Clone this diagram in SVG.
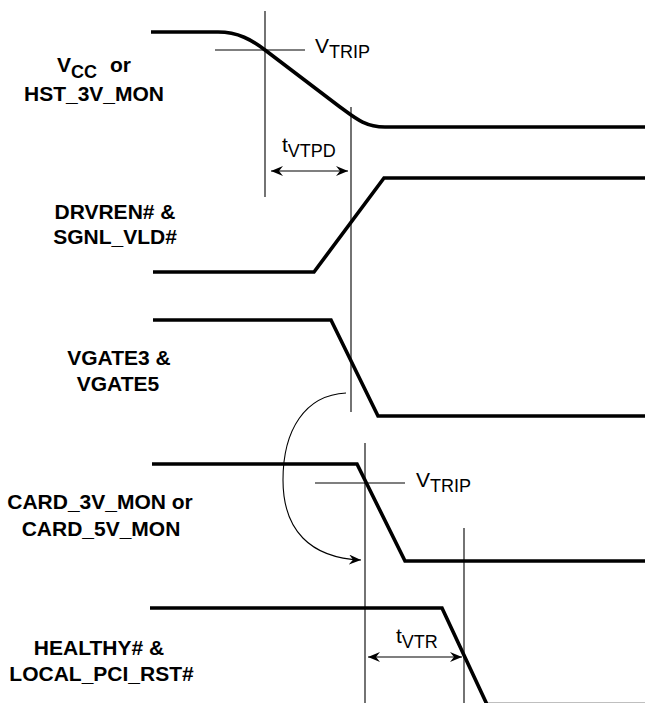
<svg xmlns="http://www.w3.org/2000/svg" width="645" height="703" viewBox="0 0 645 703">
<style>
.sig{fill:none;stroke:#000;stroke-width:3.6;stroke-linejoin:miter}
.thin{fill:none;stroke:#000;stroke-width:1.1}
.lbl{font-family:"Liberation Sans",Arial,sans-serif;font-weight:bold;font-size:21px;fill:#000;text-anchor:middle}
.ann{font-family:"Liberation Sans",Arial,sans-serif;font-size:21px;fill:#000}
.sub{font-size:18px}
</style>
<defs>
<marker id="ah" viewBox="0 0 12 10" refX="12" refY="5" markerWidth="12" markerHeight="10" markerUnits="userSpaceOnUse" orient="auto-start-reverse">
<path d="M0,0 L12,5 L0,10 L4,5 z" fill="#000"/>
</marker>
</defs>
<rect width="645" height="703" fill="#fff"/>
<g id="signals">
<g id="vcc"><path class="sig" d="M151,32 L218,32 C238,32 252,40 265,50 L340,107 C355,118 365,127 385,127 L645,127"/></g>
<g id="drvren"><path class="sig" d="M153,272 L314,272 L384,178 L645,178"/></g>
<g id="vgate"><path class="sig" d="M153,320 L331,320 L378,416 L645,416"/></g>
<g id="card"><path class="sig" d="M152,464 L357,464 L405,561 L645,561"/></g>
<g id="healthy"><path class="sig" d="M150,608 L442,608 L487,704.5 L645,704.5"/></g>
</g>
<g id="labels">
<g id="lbl-vcc"><text class="lbl" x="57" y="72" style="text-anchor:start">V<tspan class="sub" dy="6">CC</tspan></text><text class="lbl" x="110" y="72" style="text-anchor:start">or</text><text class="lbl" x="94" y="101">HST_3V_MON</text></g>
<g id="lbl-drvren"><text class="lbl" x="115" y="219">DRVREN# &amp;</text><text class="lbl" x="115" y="244">SGNL_VLD#</text></g>
<g id="lbl-vgate"><text class="lbl" x="119" y="365">VGATE3 &amp;</text><text class="lbl" x="118" y="391">VGATE5</text></g>
<g id="lbl-card"><text class="lbl" x="100" y="509">CARD_3V_MON or</text><text class="lbl" x="101" y="536">CARD_5V_MON</text></g>
<g id="lbl-healthy"><text class="lbl" x="99" y="655">HEALTHY# &amp;</text><text class="lbl" x="101.5" y="681">LOCAL_PCI_RST#</text></g>
</g>
<g id="connectors">
<line class="thin" x1="265" y1="11" x2="265" y2="197"/>
<line class="thin" x1="351" y1="107" x2="351" y2="412"/>
<line class="thin" x1="365" y1="443" x2="365" y2="703"/>
<line class="thin" x1="464" y1="528" x2="464" y2="703"/>
<line class="thin" x1="215" y1="50" x2="305" y2="50"/>
<line class="thin" x1="315" y1="483" x2="405" y2="483"/>
<line class="thin" x1="271" y1="171" x2="348" y2="171" stroke-width="1.4" marker-start="url(#ah)" marker-end="url(#ah)"/>
<line class="thin" x1="368" y1="657" x2="462" y2="657" stroke-width="1.4" marker-start="url(#ah)" marker-end="url(#ah)"/>
<path class="thin" d="M346,393 C305,395 283,430 283,480 C283,530 310,558 361,560" marker-end="url(#ah)"/>
</g>
<g id="annotations">
<text class="ann" x="315" y="53">V<tspan class="sub" dy="5">TRIP</tspan></text>
<text class="ann" x="282" y="152">t<tspan class="sub" dy="5">VTPD</tspan></text>
<text class="ann" x="416" y="487">V<tspan class="sub" dy="5">TRIP</tspan></text>
<text class="ann" x="396" y="643">t<tspan class="sub" dy="5">VTR</tspan></text>
</g>
</svg>
